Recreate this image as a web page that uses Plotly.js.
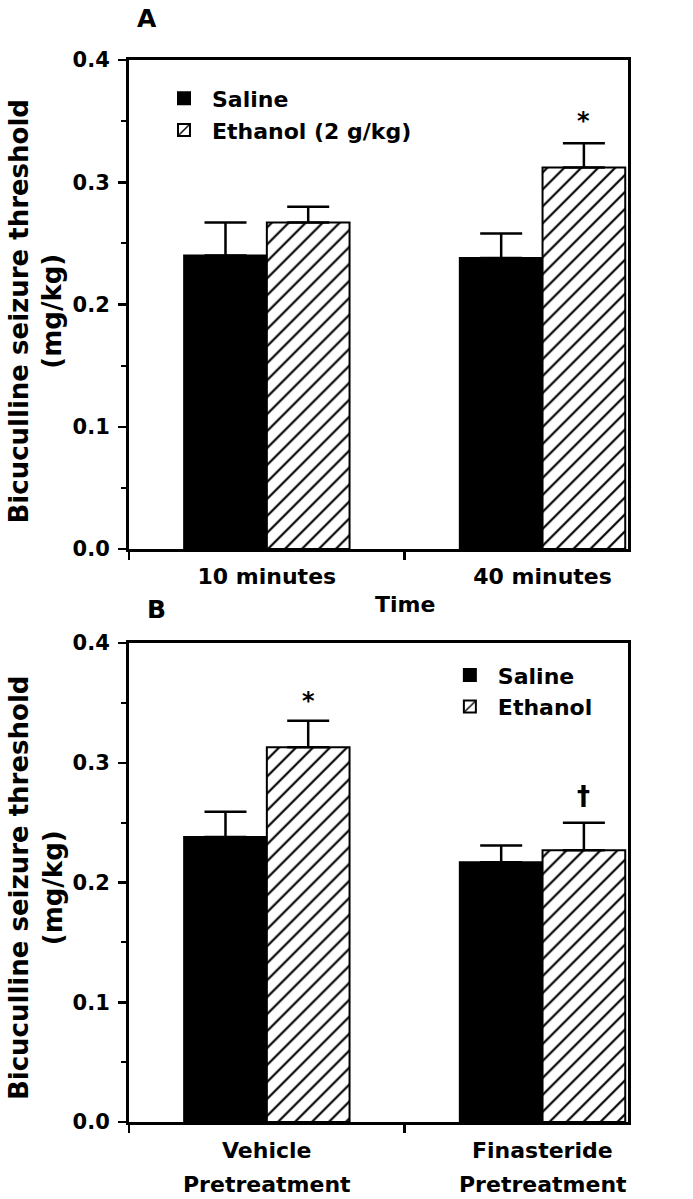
<!DOCTYPE html>
<html>
<head>
<meta charset="utf-8">
<script src="https://cdn.plot.ly/plotly-3.0.1.min.js"></script>
<style>html,body{margin:0;padding:0;background:#fff;}</style>
</head>
<body>
<div id="chart" style="width:693px;height:1199px;"></div>
<script>
// Panel A data
var catsA = ['10 minutes', '40 minutes'];
var salineA = [0.240, 0.238];
var salineAErr = [0.027, 0.020];
var ethanolA = [0.267, 0.312];
var ethanolAErr = [0.013, 0.020];

// Panel B data
var catsBLine1 = ['Vehicle', 'Finasteride'];
var catsBLine2 = ['Pretreatment', 'Pretreatment'];
var catsB = catsBLine1.map(function (a, i) { return a + ' ' + catsBLine2[i]; });
var salineB = [0.238, 0.217];
var salineBErr = [0.021, 0.014];
var ethanolB = [0.313, 0.227];
var ethanolBErr = [0.022, 0.023];

var yTicks = [0.0, 0.1, 0.2, 0.3, 0.4];
var yTitle = 'Bicuculline seizure threshold<br>(mg/kg)';

var FONT = 'DejaVu Sans, Verdana, sans-serif';
var bf = function (s) { return {family: FONT, size: s, color: '#000', weight: 'bold'}; };

function zeros(a) { return a.map(function () { return 0; }); }

function salineTrace(x, y, err, xa, ya, lg, name) {
  return {
    type: 'bar', x: x, y: y, name: name, xaxis: xa, yaxis: ya, legend: lg,
    marker: {color: '#000', line: {color: '#000', width: 2}},
    error_y: {type: 'data', symmetric: false, array: err, arrayminus: zeros(err),
              color: '#000', thickness: 2.5, width: 21},
    hoverinfo: 'skip'
  };
}
function ethanolTrace(x, y, err, xa, ya, lg, name) {
  return {
    type: 'bar', x: x, y: y, name: name, xaxis: xa, yaxis: ya, legend: lg,
    marker: {color: '#fff', line: {color: '#000', width: 2},
             pattern: {shape: '/', fgcolor: '#000', bgcolor: '#fff', size: 12, solidity: 0.18}},
    error_y: {type: 'data', symmetric: false, array: err, arrayminus: zeros(err),
              color: '#000', thickness: 2.5, width: 21},
    hoverinfo: 'skip'
  };
}

var data = [
  salineTrace(catsA, salineA, salineAErr, 'x', 'y', 'legend', 'Saline'),
  ethanolTrace(catsA, ethanolA, ethanolAErr, 'x', 'y', 'legend', 'Ethanol (2 g/kg)'),
  salineTrace(catsB, salineB, salineBErr, 'x2', 'y2', 'legend2', 'Saline'),
  ethanolTrace(catsB, ethanolB, ethanolBErr, 'x2', 'y2', 'legend2', 'Ethanol')
];

function xAxis(anchor, showLabels) {
  return {
    anchor: anchor, type: 'category', range: [-0.5, 1.31],
    showline: true, linecolor: '#000', linewidth: 3, mirror: true,
    ticks: 'outside', tickson: 'boundaries', ticklen: 8, tickwidth: 2.5, tickcolor: '#000',
    showgrid: false, zeroline: false, tickfont: bf(22), ticklabelstandoff: 6,
    showticklabels: showLabels, fixedrange: true
  };
}
function yAxis(domain, anchor) {
  return {
    domain: domain, anchor: anchor, range: [0, 0.4],
    tickvals: yTicks, tickformat: '.1f',
    showline: true, linecolor: '#000', linewidth: 3, mirror: true,
    ticks: 'outside', ticklen: 8, tickwidth: 2.5, tickcolor: '#000',
    minor: {dtick: 0.05, ticks: 'outside', ticklen: 5, tickwidth: 2, tickcolor: '#000', showgrid: false},
    showgrid: false, zeroline: false, tickfont: bf(21), ticklabelstandoff: 4,
    fixedrange: true
  };
}

var annotations = [
  {text: 'A', xref: 'paper', yref: 'paper', x: 0.036, y: 1.0395, xanchor: 'center', yanchor: 'middle', showarrow: false, font: bf(25)},
  {text: 'B', xref: 'paper', yref: 'paper', x: 0.056, y: 0.483, xanchor: 'center', yanchor: 'middle', showarrow: false, font: bf(25)},
  {text: 'Time', xref: 'x', yref: 'paper', x: 0.5, y: 0.4876, xanchor: 'center', yanchor: 'middle', showarrow: false, font: bf(22)},
  {text: '*', xref: 'x', yref: 'y', x: 1.15, y: 0.3505, xanchor: 'center', yanchor: 'middle', showarrow: false, font: bf(24)},
  {text: '*', xref: 'x2', yref: 'y2', x: 0.15, y: 0.352, xanchor: 'center', yanchor: 'middle', showarrow: false, font: bf(24)},
  {text: '†', xref: 'x2', yref: 'y2', x: 1.15, y: 0.2725, xanchor: 'center', yanchor: 'middle', showarrow: false, font: bf(26)},
  {text: yTitle, xref: 'paper', yref: 'paper', x: -0.1864, y: 0.7632, xanchor: 'center', yanchor: 'middle',
   textangle: -90, showarrow: false, font: bf(26)},
  {text: yTitle, xref: 'paper', yref: 'paper', x: -0.1864, y: 0.2203, xanchor: 'center', yanchor: 'middle',
   textangle: -90, showarrow: false, font: bf(26)}
];
catsB.forEach(function (c, i) {
  annotations.push({text: catsBLine1[i], xref: 'x2', yref: 'paper', x: c, y: -0.0273,
                    xanchor: 'center', yanchor: 'middle', showarrow: false, font: bf(22)});
  annotations.push({text: catsBLine2[i], xref: 'x2', yref: 'paper', x: c, y: -0.0584,
                    xanchor: 'center', yanchor: 'middle', showarrow: false, font: bf(22)});
});

var layout = {
  width: 693, height: 1199,
  margin: {l: 129, r: 65, t: 60, b: 77},
  paper_bgcolor: '#fff', plot_bgcolor: '#fff',
  barmode: 'group', bargap: 0.4, bargroupgap: 0,
  showlegend: true,
  xaxis: xAxis('y', true),
  yaxis: yAxis([0.5395, 1], 'x'),
  xaxis2: xAxis('y2', false),
  yaxis2: yAxis([0, 0.451], 'x2'),
  legend: {x: 0.0541, y: 0.9835, xanchor: 'left', yanchor: 'top', font: bf(22),
           bgcolor: 'rgba(0,0,0,0)', tracegroupgap: 0, itemwidth: 46},
  legend2: {x: 0.627, y: 0.4405, xanchor: 'left', yanchor: 'top', font: bf(22),
            bgcolor: 'rgba(0,0,0,0)', tracegroupgap: 0, itemwidth: 46},
  annotations: annotations
};

Plotly.newPlot('chart', data, layout, {staticPlot: true, displayModeBar: false});
</script>
</body>
</html>
